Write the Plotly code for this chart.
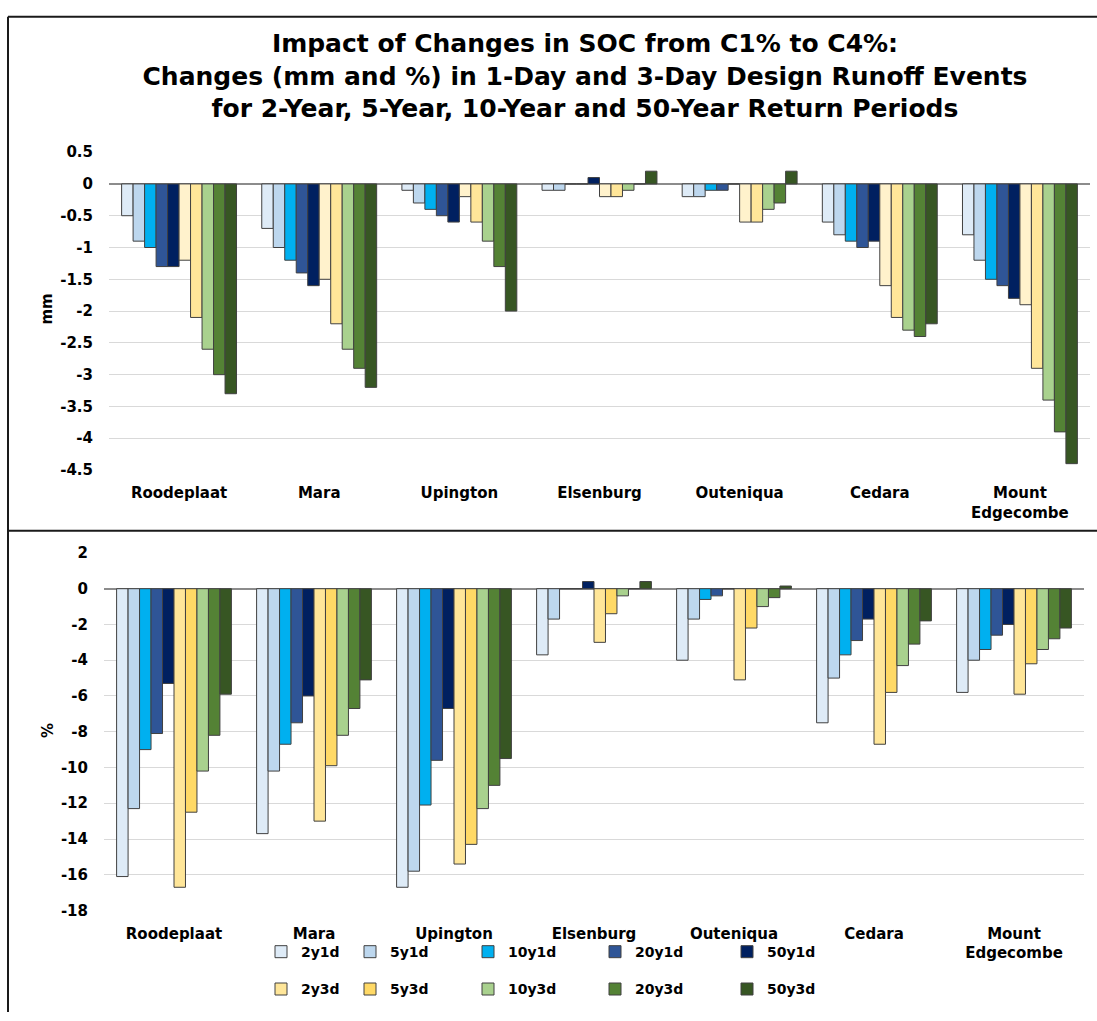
import plotly.graph_objects as go

# ---------------- data ----------------
stations = ["Roodeplaat", "Mara", "Upington", "Elsenburg", "Outeniqua", "Cedara", "Mount<br>Edgecombe"]
series_names = ["2y1d", "5y1d", "10y1d", "20y1d", "50y1d", "2y3d", "5y3d", "10y3d", "20y3d", "50y3d"]

# Changes in mm (top chart)
mm_2y1d = [-0.5, -0.7, -0.1, -0.1, -0.2, -0.6, -0.8]
mm_5y1d = [-0.9, -1.0, -0.3, -0.1, -0.2, -0.8, -1.2]
mm_10y1d = [-1.0, -1.2, -0.4, 0.0, -0.1, -0.9, -1.5]
mm_20y1d = [-1.3, -1.4, -0.5, 0.0, -0.1, -1.0, -1.6]
mm_50y1d = [-1.3, -1.6, -0.6, 0.1, 0.0, -0.9, -1.8]
mm_2y3d = [-1.2, -1.5, -0.2, -0.2, -0.6, -1.6, -1.9]
mm_5y3d = [-2.1, -2.2, -0.6, -0.2, -0.6, -2.1, -2.9]
mm_10y3d = [-2.6, -2.6, -0.9, -0.1, -0.4, -2.3, -3.4]
mm_20y3d = [-3.0, -2.9, -1.3, 0.0, -0.3, -2.4, -3.9]
mm_50y3d = [-3.3, -3.2, -2.0, 0.2, 0.2, -2.2, -4.4]

# Changes in % (bottom chart)
pct_2y1d = [-16.1, -13.7, -16.7, -3.7, -4.0, -7.5, -5.8]
pct_5y1d = [-12.3, -10.2, -15.8, -1.7, -1.7, -5.0, -4.0]
pct_10y1d = [-9.0, -8.7, -12.1, 0.0, -0.6, -3.7, -3.4]
pct_20y1d = [-8.1, -7.5, -9.6, 0.0, -0.4, -2.9, -2.6]
pct_50y1d = [-5.3, -6.0, -6.7, 0.4, 0.0, -1.7, -2.0]
pct_2y3d = [-16.7, -13.0, -15.4, -3.0, -5.1, -8.7, -5.9]
pct_5y3d = [-12.5, -9.9, -14.3, -1.4, -2.2, -5.8, -4.2]
pct_10y3d = [-10.2, -8.2, -12.3, -0.4, -1.0, -4.3, -3.4]
pct_20y3d = [-8.2, -6.7, -11.0, 0.0, -0.5, -3.1, -2.8]
pct_50y3d = [-5.9, -5.1, -9.5, 0.4, 0.15, -1.8, -2.2]

mm_tick_vals = [0.5, 0, -0.5, -1, -1.5, -2, -2.5, -3, -3.5, -4, -4.5]
mm_tick_text = ["0.5", "0", "-0.5", "-1", "-1.5", "-2", "-2.5", "-3", "-3.5", "-4", "-4.5"]
pct_tick_vals = [2, 0, -2, -4, -6, -8, -10, -12, -14, -16, -18]
pct_tick_text = ["2", "0", "-2", "-4", "-6", "-8", "-10", "-12", "-14", "-16", "-18"]

title_text = ("Impact of Changes in SOC from C1% to C4%:<br>"
              "Changes (mm and %) in 1-Day and 3-Day Design Runoff Events<br>"
              "for 2-Year, 5-Year, 10-Year and 50-Year Return Periods")

mm_series = [mm_2y1d, mm_5y1d, mm_10y1d, mm_20y1d, mm_50y1d,
             mm_2y3d, mm_5y3d, mm_10y3d, mm_20y3d, mm_50y3d]
pct_series = [pct_2y1d, pct_5y1d, pct_10y1d, pct_20y1d, pct_50y1d,
              pct_2y3d, pct_5y3d, pct_10y3d, pct_20y3d, pct_50y3d]

# ---------------- styles ----------------
top_colors = ["#DEEBF7", "#BDD7EE", "#00B0F0", "#2F5597", "#002060",
              "#FFF2CC", "#FFE699", "#A9D18E", "#548235", "#375623"]
bot_colors = ["#DEEBF7", "#BDD7EE", "#00B0F0", "#2F5597", "#002060",
              "#FFE699", "#FFD966", "#A9D18E", "#548235", "#375623"]

W, H = 1097, 1021
FONT = "DejaVu Sans, Verdana, sans-serif"

# legend entry positions (px): left edge per column, centre per row
legend_cols_px = [261, 350, 468, 595, 727]
legend_rows_px = [960, 998]


def fx(p):
    return p / W


def fy(p):
    return 1 - p / H


fig = go.Figure()

for name, vals, col in zip(series_names, mm_series, top_colors):
    fig.add_trace(go.Bar(
        x=stations, y=vals, name=name, xaxis="x", yaxis="y",
        marker=dict(color=col, line=dict(color="#404040", width=1)),
        showlegend=False, offsetgroup=name,
    ))

legend_layouts = {}
for i, (name, vals, col) in enumerate(zip(series_names, pct_series, bot_colors)):
    key = "legend" if i == 0 else "legend%d" % (i + 1)
    fig.add_trace(go.Bar(
        x=stations, y=vals, name=name, xaxis="x2", yaxis="y2",
        marker=dict(color=col, line=dict(color="#404040", width=1)),
        showlegend=True, legend=key, offsetgroup=name,
    ))
    legend_layouts[key] = dict(
        x=fx(legend_cols_px[i % 5]), y=fy(legend_rows_px[i // 5]),
        xanchor="left", yanchor="middle", orientation="v",
        font=dict(family=FONT, size=14, color="black", weight="bold"),
        bgcolor="rgba(0,0,0,0)", itemwidth=30,
    )

tickfont = dict(family=FONT, size=15, color="black", weight="bold")

axis_common_x = dict(type="category", showgrid=False, showline=False, zeroline=False,
                     ticks="outside", ticklen=9, tickcolor="rgba(0,0,0,0)",
                     tickfont=tickfont, fixedrange=True)
axis_common_y = dict(showgrid=True, gridcolor="#D9D9D9", gridwidth=1, showline=False,
                     zeroline=True, zerolinecolor="#8C8C8C", zerolinewidth=1.5,
                     ticks="outside", ticklen=12, tickcolor="rgba(0,0,0,0)",
                     tickfont=tickfont, fixedrange=True)

fig.update_layout(
    width=W, height=H,
    margin=dict(l=0, r=0, t=0, b=0),
    paper_bgcolor="white", plot_bgcolor="white",
    barmode="group", bargap=0.18, bargroupgap=0,
    font=dict(family=FONT, size=15, color="black"),
    title=dict(text=title_text, x=fx(585), xanchor="center", xref="paper",
               y=fy(44), yanchor="top", yref="paper",
               font=dict(family=FONT, size=25, color="black", weight="bold")),
    xaxis=dict(domain=[fx(109), fx(1090)], anchor="y", **axis_common_x),
    yaxis=dict(domain=[fy(469.3), fy(145.7)], anchor="x", range=[-4.5, 0.5],
               tickvals=mm_tick_vals, ticktext=mm_tick_text, **axis_common_y),
    xaxis2=dict(domain=[fx(104), fx(1084)], anchor="y2", **axis_common_x),
    yaxis2=dict(domain=[fy(917.7), fy(553.7)], anchor="x2", range=[-18, 2],
                tickvals=pct_tick_vals, ticktext=pct_tick_text, **axis_common_y),
    annotations=[
        dict(text="mm", x=fx(47), y=fy(306), xref="paper", yref="paper",
             textangle=-90, showarrow=False, xanchor="center", yanchor="middle",
             font=dict(family=FONT, size=15, color="black", weight="bold")),
        dict(text="%", x=fx(48), y=fy(735), xref="paper", yref="paper",
             textangle=-90, showarrow=False, xanchor="center", yanchor="middle",
             font=dict(family=FONT, size=15, color="black", weight="bold")),
    ],
    shapes=[
        dict(type="line", xref="paper", yref="paper", x0=fx(8), x1=1, y0=fy(8), y1=fy(8),
             line=dict(color="#1a1a1a", width=2)),
        dict(type="line", xref="paper", yref="paper", x0=fx(8), x1=fx(8), y0=0, y1=fy(8),
             line=dict(color="#1a1a1a", width=2)),
        dict(type="line", xref="paper", yref="paper", x0=fx(8), x1=1, y0=fy(531), y1=fy(531),
             line=dict(color="#1a1a1a", width=2)),
    ],
    **legend_layouts,
)

fig.write_html(
    "out.html",
    config={"displayModeBar": False},
    post_script="document.body.style.margin='0';document.documentElement.style.overflow='hidden';",
)
